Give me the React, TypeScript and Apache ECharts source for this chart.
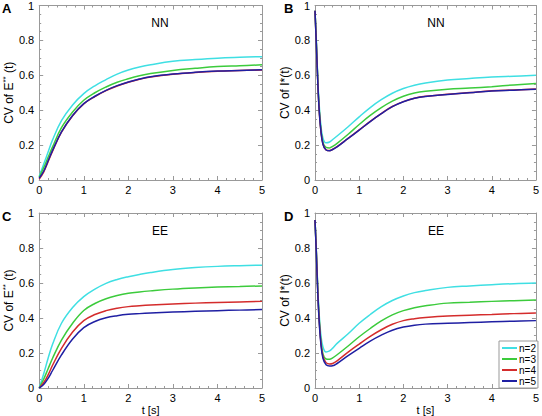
import React, { useEffect, useRef } from "react";
import * as echarts from "echarts";

const seriesNames = ["n=2", "n=3", "n=4", "n=5"];
const colors = ["#3fdfe3", "#3ccb3c", "#d42c2c", "#1f1fa3"];

const xTicks = [0, 1, 2, 3, 4, 5];
const yTicks = [0, 0.2, 0.4, 0.6, 0.8, 1];

// time samples for E**(t) panels (A, C)
const tE = [0, 0.1, 0.2, 0.3, 0.5, 0.75, 1, 1.25, 1.5, 1.75, 2, 2.25, 2.5, 3, 3.5, 4, 4.5, 5];
// time samples for I*(t) panels (B, D)
const tI = [0, 0.03, 0.06, 0.09, 0.13, 0.18, 0.25, 0.33, 0.4, 0.5, 0.75, 1, 1.25, 1.5, 1.75, 2, 2.25, 2.5, 3, 3.5, 4, 4.5, 5];

// Panel A: NN, CV of E**(t)
const aN2 = [0.02, 0.09, 0.16, 0.23, 0.34, 0.43, 0.495, 0.54, 0.575, 0.607, 0.63, 0.647, 0.66, 0.68, 0.69, 0.698, 0.703, 0.707];
const aN3 = [0.015, 0.07, 0.13, 0.19, 0.3, 0.39, 0.457, 0.5, 0.533, 0.56, 0.58, 0.597, 0.61, 0.628, 0.64, 0.65, 0.655, 0.66];
const aN4 = [0.005, 0.045, 0.105, 0.165, 0.274, 0.368, 0.436, 0.478, 0.512, 0.539, 0.56, 0.577, 0.59, 0.606, 0.616, 0.623, 0.627, 0.631];
const aN5 = [0.01, 0.05, 0.11, 0.17, 0.276, 0.37, 0.438, 0.48, 0.514, 0.541, 0.562, 0.579, 0.592, 0.607, 0.617, 0.624, 0.628, 0.632];

// Panel B: NN, CV of I*(t)
const bN2 = [0.97, 0.8, 0.6, 0.45, 0.32, 0.24, 0.213, 0.218, 0.232, 0.252, 0.305, 0.362, 0.415, 0.46, 0.497, 0.524, 0.543, 0.556, 0.573, 0.582, 0.59, 0.595, 0.6];
const bN3 = [0.97, 0.79, 0.59, 0.43, 0.3, 0.215, 0.187, 0.184, 0.193, 0.21, 0.262, 0.318, 0.37, 0.415, 0.452, 0.48, 0.498, 0.508, 0.52, 0.527, 0.535, 0.545, 0.553];
const bN4 = [0.97, 0.78, 0.58, 0.42, 0.29, 0.206, 0.173, 0.169, 0.176, 0.191, 0.239, 0.287, 0.336, 0.381, 0.421, 0.449, 0.469, 0.48, 0.491, 0.501, 0.511, 0.516, 0.521];
const bN5 = [0.97, 0.78, 0.58, 0.42, 0.29, 0.205, 0.172, 0.168, 0.175, 0.19, 0.238, 0.286, 0.335, 0.38, 0.42, 0.448, 0.468, 0.479, 0.49, 0.5, 0.51, 0.515, 0.52];

// Panel C: EE, CV of E**(t)
const cN2 = [0, 0.08, 0.17, 0.25, 0.37, 0.46, 0.522, 0.565, 0.598, 0.62, 0.636, 0.649, 0.66, 0.677, 0.688, 0.695, 0.699, 0.702];
const cN3 = [0, 0.05, 0.11, 0.17, 0.274, 0.37, 0.443, 0.483, 0.51, 0.528, 0.541, 0.549, 0.555, 0.565, 0.572, 0.577, 0.58, 0.583];
const cN4 = [0, 0.03, 0.075, 0.13, 0.227, 0.32, 0.385, 0.42, 0.442, 0.456, 0.465, 0.47, 0.474, 0.48, 0.485, 0.489, 0.492, 0.495];
const cN5 = [0, 0.02, 0.055, 0.1, 0.189, 0.28, 0.345, 0.38, 0.401, 0.413, 0.421, 0.425, 0.428, 0.434, 0.438, 0.442, 0.445, 0.448];

// Panel D: EE, CV of I*(t)
const dN2 = [0.96, 0.79, 0.59, 0.44, 0.31, 0.235, 0.206, 0.212, 0.228, 0.255, 0.31, 0.37, 0.42, 0.465, 0.5, 0.526, 0.545, 0.557, 0.575, 0.583, 0.59, 0.596, 0.6];
const dN3 = [0.96, 0.78, 0.58, 0.42, 0.28, 0.195, 0.166, 0.164, 0.172, 0.19, 0.24, 0.293, 0.34, 0.383, 0.418, 0.442, 0.459, 0.47, 0.485, 0.49, 0.495, 0.499, 0.503];
const dN4 = [0.96, 0.78, 0.57, 0.41, 0.27, 0.18, 0.145, 0.137, 0.14, 0.155, 0.205, 0.251, 0.295, 0.333, 0.364, 0.385, 0.396, 0.403, 0.412, 0.416, 0.42, 0.425, 0.429];
const dN5 = [0.96, 0.77, 0.56, 0.4, 0.26, 0.17, 0.133, 0.126, 0.127, 0.14, 0.185, 0.227, 0.268, 0.302, 0.33, 0.348, 0.359, 0.365, 0.37, 0.374, 0.378, 0.382, 0.385];

const panelLetters = ["A", "B", "C", "D"];
const panelTitles = ["NN", "NN", "EE", "EE"];

const FONT = "'Liberation Sans', Arial, Helvetica, sans-serif";
const AXIS_COLOR = "#999";

export default function App() {
  const ref = useRef<HTMLDivElement>(null);

  useEffect(() => {
    if (!ref.current) return;
    const chart = echarts.init(ref.current, undefined, { renderer: "svg" });

    const panels = [
      { t: tE, ys: [aN2, aN3, aN4, aN5], yName: "{a|CV of E}{s|**}{a| (t)}", xName: "" },
      { t: tI, ys: [bN2, bN3, bN4, bN5], yName: "{a|CV of I*(t)}", xName: "" },
      { t: tE, ys: [cN2, cN3, cN4, cN5], yName: "{a|CV of E}{s|**}{a| (t)}", xName: "t [s]" },
      { t: tI, ys: [dN2, dN3, dN4, dN5], yName: "{a|CV of I*(t)}", xName: "t [s]" },
    ];

    const gridPos = [
      { left: 39, top: 5 },
      { left: 315, top: 5 },
      { left: 39, top: 213 },
      { left: 315, top: 213 },
    ];
    const grids = gridPos.map((g, i) => ({
      left: g.left,
      top: g.top,
      width: i % 2 === 0 ? 223 : 224,
      height: 175,
      containLabel: false,
    }));

    const tickCommon = {
      axisLine: { show: true, onZero: false, lineStyle: { color: AXIS_COLOR, width: 1 } },
      axisTick: { show: true, inside: true, length: 4, lineStyle: { color: AXIS_COLOR } },
      splitLine: { show: false },
    };

    const xAxes: any[] = [];
    const yAxes: any[] = [];
    panels.forEach((p, i) => {
      const xBase = {
        gridIndex: i,
        type: "value",
        min: xTicks[0],
        max: xTicks[xTicks.length - 1],
        interval: xTicks[1] - xTicks[0],
        minorTick: { show: true, splitNumber: 5, length: 2, lineStyle: { color: AXIS_COLOR } },
        ...tickCommon,
      };
      xAxes.push({
        ...xBase,
        position: "bottom",
        axisLabel: { color: "#000", fontSize: 11, fontFamily: FONT, margin: 4 },
        name: p.xName,
        nameLocation: "middle",
        nameGap: 16,
        nameTextStyle: { color: "#000", fontSize: 11, fontWeight: "normal", fontFamily: FONT },
      });
      xAxes.push({ ...xBase, position: "top", axisLabel: { show: false } });
      const yBase = {
        gridIndex: i,
        type: "value",
        min: yTicks[0],
        max: yTicks[yTicks.length - 1],
        interval: yTicks[1] - yTicks[0],
        minorTick: { show: true, splitNumber: 4, length: 2, lineStyle: { color: AXIS_COLOR } },
        ...tickCommon,
      };
      yAxes.push({
        ...yBase,
        position: "left",
        axisLabel: { color: "#000", fontSize: 11, fontFamily: FONT, margin: 5 },
        name: p.yName,
        nameLocation: "middle",
        nameGap: 22,
        nameTextStyle: {
          color: "#000",
          fontFamily: FONT,
          rich: {
            a: { fontSize: 12, fontFamily: FONT, color: "#000", lineHeight: 16, verticalAlign: "middle" },
            s: { fontSize: 8, fontFamily: FONT, color: "#000", lineHeight: 16, verticalAlign: "top" },
          },
        },
      });
      yAxes.push({ ...yBase, position: "right", axisLabel: { show: false } });
    });

    const series: any[] = [];
    panels.forEach((p, i) => {
      p.ys.forEach((vals, k) => {
        series.push({
          name: seriesNames[k],
          type: "line",
          xAxisIndex: i * 2,
          yAxisIndex: i * 2,
          symbol: "none",
          showSymbol: false,
          smooth: 0.4,
          z: 2 + (k === 3 ? 1 : 0),
          lineStyle: { color: colors[k], width: 1.5 },
          itemStyle: { color: colors[k] },
          data: p.t.map((t, j) => [t, vals[j]]),
        });
      });
    });

    const graphics: any[] = [];
    gridPos.forEach((g, i) => {
      graphics.push({
        type: "text",
        left: i % 2 === 0 ? 2 : 284,
        top: g.top - 3,
        style: {
          text: panelLetters[i],
          font: `bold 13px ${FONT}`,
          fill: "#000",
        },
      });
      graphics.push({
        type: "text",
        x: g.left + 121,
        y: g.top + 18,
        style: {
          text: panelTitles[i],
          font: `12px ${FONT}`,
          fill: "#000",
          textAlign: "center",
          textVerticalAlign: "middle",
        },
      });
    });

    chart.setOption({
      animation: false,
      backgroundColor: "#fff",
      textStyle: { fontFamily: FONT },
      grid: grids,
      xAxis: xAxes,
      yAxis: yAxes,
      series,
      legend: {
        data: seriesNames.map((n, k) => ({ name: n, icon: "rect", itemStyle: { color: colors[k] } })),
        orient: "vertical",
        left: 499,
        top: 341,
        itemWidth: 15,
        itemHeight: 2,
        itemGap: 1,
        padding: [2, 2, 2, 3],
        backgroundColor: "#fff",
        borderColor: AXIS_COLOR,
        borderWidth: 1,
        borderRadius: 0,
        selectedMode: false,
        textStyle: { fontSize: 10, lineHeight: 10, fontFamily: FONT, color: "#000", padding: [0, 0, 0, -3] },
      },
      graphic: graphics,
    });

    return () => chart.dispose();
  }, []);

  return (
    <div
      ref={ref}
      style={{ position: "absolute", left: 0, top: 0, width: 542, height: 416, background: "#fff" }}
    />
  );
}
